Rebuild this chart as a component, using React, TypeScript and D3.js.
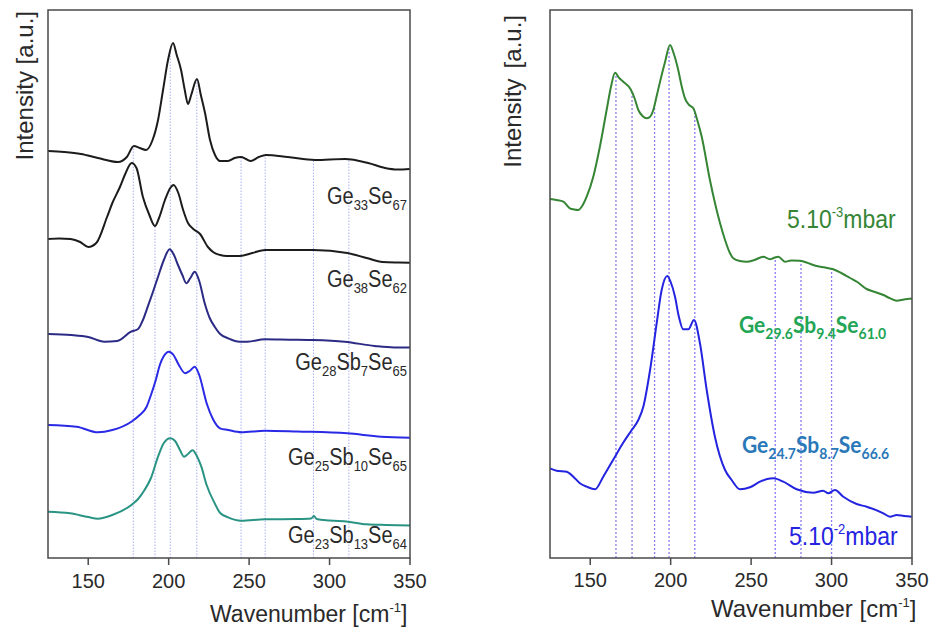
import React from "react";
import * as d3 from "d3";

// ---------- Data (wavenumber cm^-1, intensity a.u. incl. vertical offset) ----------
const ge33se67: [number, number][] = [
  [125, 407], [135, 406], [145.5, 404], [156, 400], [168.5, 396], [174, 401], [178.4, 412], [182, 410],
  [185.9, 408], [190, 418], [193.4, 438], [196.5, 468], [199.6, 498], [202.7, 515], [205, 503], [207.7, 488],
  [210, 468], [212, 454], [214, 463], [217.6, 479], [220, 463], [222.6, 445], [225.7, 418], [228.8, 403],
  [231.9, 397], [236.9, 397], [241, 400], [245, 401], [248, 399], [251, 397], [256, 401], [260.5, 403],
  [274, 401], [291, 398], [309.6, 399], [324, 395], [334.5, 390], [342, 388.5], [350, 389],
];
const ge38se62: [number, number][] = [
  [125, 319], [132, 319.5], [139, 319], [145, 316], [150, 311], [155, 315], [161.7, 341], [165, 355],
  [169.7, 371], [173, 384], [177, 395], [180, 390], [184, 361], [188, 343], [191.5, 332], [194, 340],
  [197.7, 358], [201, 370], [203, 373], [206, 365], [209, 348], [212, 335], [215.3, 329], [219.5, 324],
  [224.4, 311], [227.6, 306], [232, 303], [236, 302], [244.3, 302], [252, 305], [260, 308], [275, 308],
  [290, 308], [311, 305], [323, 300], [333, 296], [343, 295.5], [350, 295.3],
];
const ge28sb7se65: [number, number][] = [
  [125, 224], [139.5, 223], [150, 221], [160, 216.3], [168, 217], [176.6, 226.3], [181, 229], [184, 238],
  [187, 251.3], [190, 265], [193.4, 281.3], [197, 298], [200.6, 308.7], [203, 304], [205.8, 293],
  [208.5, 283], [211, 274.7], [213.5, 280], [216.2, 286.3], [219, 277], [222.4, 254.7], [225.5, 240],
  [228.6, 231.3], [232, 224], [237, 219.7], [244, 216.3], [249, 216.3], [259.7, 218.7], [275, 218.3],
  [288.5, 218], [309.4, 216.3], [328, 212], [340, 210.5], [350, 210.5],
];
const ge25sb10se65: [number, number][] = [
  [125, 133], [142.8, 131.3], [156, 125.7], [165, 128], [176.8, 136.3], [182, 143], [186.3, 151.3],
  [189, 163], [192, 178], [194.5, 193], [197, 202], [200.2, 206.3], [203, 203], [206, 194], [210.3, 184.7],
  [213, 187], [216.2, 191.3], [219, 183], [223.6, 154.7], [227.5, 139], [231.9, 129.7], [236.9, 128],
  [245, 125.7], [259.7, 127.3], [280, 126.5], [311, 124.7], [332, 121.3], [350, 120.3],
];
const ge23sb13se64: [number, number][] = [
  [125, 46.3], [138.7, 44.7], [150, 41], [156, 39.3], [165, 43], [176.8, 53], [181, 59], [185, 68],
  [189, 80], [193.4, 101.3], [197, 115], [201, 119.7], [204, 117], [207, 108], [209.6, 101.3], [212, 104],
  [214.8, 107.7], [217.5, 102], [220.3, 91.3], [223.6, 73], [228.6, 54.7], [232, 45], [236.9, 40.7],
  [245, 37.3], [259.7, 38.7], [280, 39], [288.5, 39.5], [290.3, 42], [292, 39], [300, 37.5], [311.5, 36.3],
  [323, 33.7], [335, 33], [350, 32.5],
];

const p5e3: [number, number][] = [
  [125, 359], [129, 358], [133.3, 356.3], [137.4, 349.7], [140, 348.5], [142.6, 348], [145, 352],
  [147.8, 361.3], [151.9, 381.3], [156, 411.3], [160.2, 448], [163, 472], [165.4, 485.3], [168, 480],
  [170.5, 476.3], [175.1, 468.7], [177.5, 460], [179.9, 448], [182.5, 442], [185.1, 439.7], [187, 441],
  [189.2, 448], [191.3, 462], [193.4, 476.3], [196.5, 496], [199.6, 513], [202, 504], [204.7, 488],
  [206.8, 472], [208.9, 459.7], [211.5, 453], [214.1, 449.7], [216.7, 437], [219.3, 421.3], [224.4, 378],
  [230.7, 334.7], [233.8, 318], [236.9, 304.7], [238.9, 299.7], [243, 297], [247.2, 296.3], [252, 298],
  [257.6, 301.3], [261.7, 298.7], [264, 300], [266.9, 301.3], [271, 296.3], [275, 297.5], [280.4, 297.3],
  [288.6, 293], [290.8, 292], [296, 290.5], [301.1, 288.7], [306, 285], [311.5, 280], [316, 276],
  [321.8, 269], [326, 266.5], [332.2, 263], [336, 260], [340.5, 257.3], [345, 258.5], [350, 259.5],
];
const p5e2: [number, number][] = [
  [125, 89.7], [129.1, 87.3], [135.4, 86.3], [139.5, 81.3], [143.6, 74.7], [147.8, 71.3], [153, 68.7],
  [158.1, 81.3], [165.4, 101.3], [170, 114], [175.8, 128], [179.9, 138], [183, 151.3], [187.2, 188],
  [191.3, 234.7], [194.4, 268], [197.9, 282], [200, 276], [202.7, 261.3], [205, 242], [207.8, 228.7],
  [211, 228.7], [214.5, 238], [218.2, 214.7], [222.4, 168], [227.5, 121.3], [233.8, 88], [237.9, 78],
  [243.1, 68.7], [249.3, 70.7], [255.5, 76.3], [260, 79], [263.8, 79.7], [270, 76.3], [278.3, 68.7],
  [288.6, 65.3], [294.8, 67.3], [298, 64.7], [302.1, 68], [307.3, 61.3], [315.6, 54], [321.8, 51.3],
  [332.2, 44.7], [336.3, 41.3], [340.5, 43], [345, 42], [350, 41.3],
];

const xTicks = [150, 200, 250, 300, 350];
const leftBands = [178, 191.5, 201, 217.5, 245, 260, 290, 312];
const leftBandRef = [0, 1, 0, 0, 0, 0, 0, 0];
const rightBands = [166, 176, 190, 199, 215, 265, 281, 300];

type Part = { t: string; s?: "sub" | "sup" };
const leftLabels: Part[][] = [
  [{ t: "Ge" }, { t: "33", s: "sub" }, { t: "Se" }, { t: "67", s: "sub" }],
  [{ t: "Ge" }, { t: "38", s: "sub" }, { t: "Se" }, { t: "62", s: "sub" }],
  [{ t: "Ge" }, { t: "28", s: "sub" }, { t: "Sb" }, { t: "7", s: "sub" }, { t: "Se" }, { t: "65", s: "sub" }],
  [{ t: "Ge" }, { t: "25", s: "sub" }, { t: "Sb" }, { t: "10", s: "sub" }, { t: "Se" }, { t: "65", s: "sub" }],
  [{ t: "Ge" }, { t: "23", s: "sub" }, { t: "Sb" }, { t: "13", s: "sub" }, { t: "Se" }, { t: "64", s: "sub" }],
];
const greenComp: Part[] = [{ t: "Ge" }, { t: "29.6", s: "sub" }, { t: "Sb" }, { t: "9.4", s: "sub" }, { t: "Se" }, { t: "61.0", s: "sub" }];
const blueComp: Part[] = [{ t: "Ge" }, { t: "24.7", s: "sub" }, { t: "Sb" }, { t: "8.7", s: "sub" }, { t: "Se" }, { t: "66.6", s: "sub" }];
const pLow: Part[] = [{ t: "5.10" }, { t: "-3", s: "sup" }, { t: "mbar" }];
const pHigh: Part[] = [{ t: "5.10" }, { t: "-2", s: "sup" }, { t: "mbar" }];
const xTitle: Part[] = [{ t: "Wavenumber [cm" }, { t: "-1", s: "sup" }, { t: "]" }];

const leftColors = ["#1c1c1c", "#1c1c1c", "#2b2b86", "#2a2ae6", "#2a9484"];
const leftSeries = [ge33se67, ge38se62, ge28sb7se65, ge25sb10se65, ge23sb13se64];

const FONT = "'Liberation Sans', Arial, sans-serif";

function Rich({ parts, x, y, size, sub, color, anchor = "start", weight = "normal", family = FONT, subDy = 5, supDy = -9, sy = 1 }: any) {
  const out: any[] = [];
  let cur = 0;
  parts.forEach((p: Part, i: number) => {
    const target = p.s === "sub" ? subDy : p.s === "sup" ? supDy : 0;
    const dy = target - cur;
    cur = target;
    out.push(
      <tspan key={i} dy={dy} fontSize={p.s ? sub : size}>
        {p.t}
      </tspan>
    );
  });
  return (
    <text transform={`translate(${x},${y}) scale(1,${sy})`} x={0} y={0} fill={color} fontSize={size} fontFamily={family} fontWeight={weight} textAnchor={anchor}>
      {out}
    </text>
  );
}

function interp(series: [number, number][], w: number) {
  const xs = series.map((d) => d[0]);
  const i = d3.bisectLeft(xs, w);
  if (i <= 0) return series[0][1];
  if (i >= series.length) return series[series.length - 1][1];
  const [x0, y0] = series[i - 1];
  const [x1, y1] = series[i];
  return y0 + ((w - x0) / (x1 - x0)) * (y1 - y0);
}

export default function App() {
  const W = 931, H = 630;
  const top = 10, bottom = 558;
  const xL = d3.scaleLinear().domain([125, 350]).range([48, 410]);
  const xR = d3.scaleLinear().domain([125, 350]).range([550, 912]);
  const y = d3.scaleLinear().domain([0, 548]).range([bottom, top]);
  const lineL = d3.line<[number, number]>().x((d) => xL(d[0])).y((d) => y(d[1])).curve(d3.curveMonotoneX);
  const lineR = d3.line<[number, number]>().x((d) => xR(d[0])).y((d) => y(d[1])).curve(d3.curveMonotoneX);

  const leftLabelY = [204, 287, 370, 465, 543];

  return (
    <svg width={W} height={H} style={{ position: "absolute", left: 0, top: 0, background: "#fff" }}>
      <rect x={0} y={0} width={W} height={H} fill="#fff" />
      {/* Left panel band lines */}
      {leftBands.map((b, i) => (
        <line key={"lb" + i} x1={xL(b)} x2={xL(b)} y1={bottom} y2={y(interp(leftSeries[leftBandRef[i]], b))}
          stroke="#aab0f2" strokeWidth={1} strokeDasharray="1.5,1.5" />
      ))}
      {leftSeries.map((s, i) => (
        <path key={"ls" + i} d={lineL(s) || ""} fill="none" stroke={leftColors[i]} strokeWidth={2} strokeLinejoin="round" />
      ))}
      <rect x={48} y={top} width={362} height={bottom - top} fill="none" stroke="#4a4a4a" strokeWidth={1.5} />
      {xTicks.map((t) => (
        <g key={"lt" + t}>
          <line x1={xL(t)} x2={xL(t)} y1={bottom} y2={bottom + 7} stroke="#4a4a4a" strokeWidth={1.5} />
          <text x={xL(t)} y={588} textAnchor="middle" fontSize={20} fontFamily={FONT} fill="#2a2a2a">{t}</text>
        </g>
      ))}
      {leftLabels.map((l, i) => (
        <Rich key={"ll" + i} parts={l} x={407} y={leftLabelY[i]} size={20} sub={13} color="#2a2a2a" anchor="end" subDy={5} sy={1.15} />
      ))}
      <Rich parts={xTitle} x={210} y={622} size={23} sub={13} color="#2a2a2a" supDy={-10} />
      <text transform="translate(33,11) rotate(-90)" textAnchor="end" fontSize={24} fontFamily={FONT} fill="#2a2a2a">Intensity [a.u.]</text>

      {/* Right panel */}
      {rightBands.map((b, i) => (
        <line key={"rb" + i} x1={xR(b)} x2={xR(b)} y1={bottom} y2={y(interp(p5e3, b))}
          stroke="#8c7cf0" strokeWidth={1.3} strokeDasharray="2,2" />
      ))}
      <path d={lineR(p5e3) || ""} fill="none" stroke="#358535" strokeWidth={2} strokeLinejoin="round" />
      <path d={lineR(p5e2) || ""} fill="none" stroke="#2424e0" strokeWidth={2} strokeLinejoin="round" />
      <rect x={550} y={top} width={362} height={bottom - top} fill="none" stroke="#4a4a4a" strokeWidth={1.5} />
      {xTicks.map((t) => (
        <g key={"rt" + t}>
          <line x1={xR(t)} x2={xR(t)} y1={bottom} y2={bottom + 7} stroke="#4a4a4a" strokeWidth={1.5} />
          <text x={xR(t)} y={587} textAnchor="middle" fontSize={20} fontFamily={FONT} fill="#2a2a2a">{t}</text>
        </g>
      ))}
      <Rich parts={pLow} x={787} y={228} size={23} sub={13} color="#358535" supDy={-10} sy={1.1} />
      <Rich parts={greenComp} x={739} y={333} size={21} sub={14} color="#22a555" weight="bold" family="Lato, 'Open Sans', sans-serif" subDy={5} sy={1.1} />
      <Rich parts={blueComp} x={742} y={453} size={21} sub={14} color="#2a78b8" weight="bold" family="Lato, 'Open Sans', sans-serif" subDy={5} sy={1.1} />
      <Rich parts={pHigh} x={789} y={545} size={23} sub={13} color="#2424e0" supDy={-10} sy={1.1} />
      <Rich parts={xTitle} x={711} y={617} size={24} sub={13} color="#2a2a2a" supDy={-10} />
      <text transform="translate(521,15) rotate(-90)" textAnchor="end" fontSize={24} fontFamily={FONT} fill="#2a2a2a">
        <tspan>Intensity</tspan>
        <tspan dx={10}>[a.u.]</tspan>
      </text>
    </svg>
  );
}
